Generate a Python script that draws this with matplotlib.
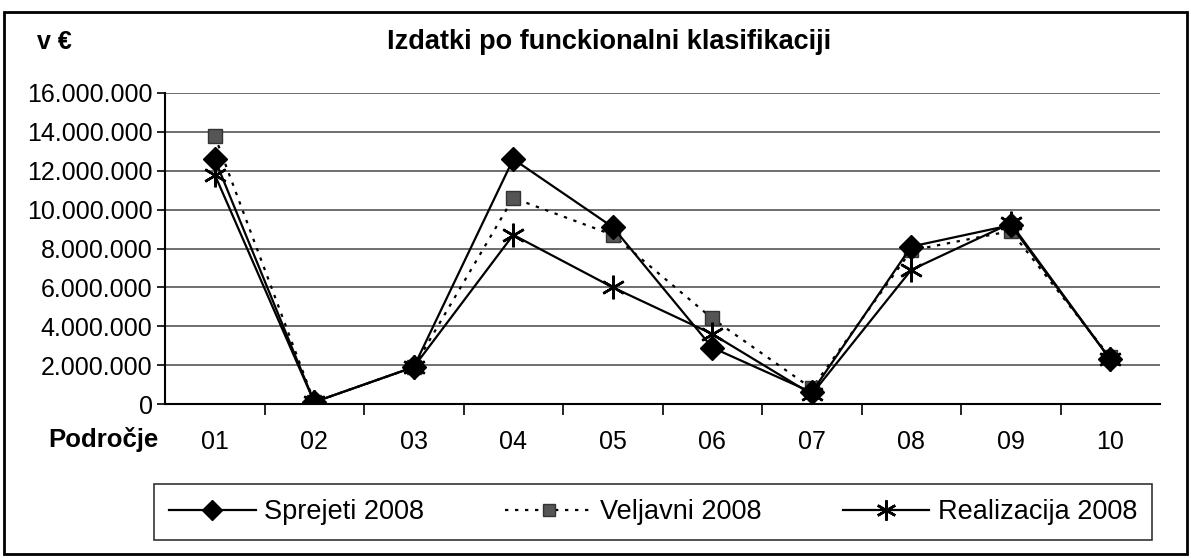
import matplotlib
matplotlib.use("Agg")
import matplotlib.pyplot as plt
from matplotlib.patches import Rectangle
from matplotlib.ticker import FuncFormatter, MultipleLocator

plt.rcParams['font.family'] = ['Liberation Sans', 'DejaVu Sans']

categories = ['01', '02', '03', '04', '05', '06', '07', '08', '09', '10']
sprejeti = [12.6e6, 0.1e6, 1.9e6, 12.6e6, 9.1e6, 2.9e6, 0.6e6, 8.1e6, 9.2e6, 2.3e6]
veljavni = [13.8e6, 0.1e6, 1.9e6, 10.6e6, 8.7e6, 4.4e6, 0.8e6, 7.9e6, 8.9e6, 2.4e6]
realizacija = [11.8e6, 0.1e6, 1.9e6, 8.7e6, 6.0e6, 3.6e6, 0.5e6, 6.9e6, 9.3e6, 2.3e6]

fig = plt.figure(figsize=(11.91, 5.58), dpi=100)
ax = fig.add_axes([165 / 1191, 1 - 404 / 558, (1160 - 165) / 1191, (404 - 93) / 558])

x = range(len(categories))
ax.plot(x, sprejeti, color='black', lw=1.6, marker='D', ms=12, mfc='black', mec='black',
        label='Sprejeti 2008', zorder=4)
ax.plot(x, veljavni, color='black', lw=1.6, ls=(0, (1.5, 3)), marker='s', ms=10, mfc='#555555',
        mec='#333333', label='Veljavni 2008', zorder=3)
ax.plot(x, realizacija, color='black', lw=1.6, marker=(6, 2, 0), ms=17, mew=1.8,
        label='Realizacija 2008', zorder=5)

ax.set_xlim(-0.5, len(categories) - 0.5)
ax.set_ylim(0, 16e6)
ax.yaxis.set_major_locator(MultipleLocator(2e6))
ax.yaxis.set_major_formatter(FuncFormatter(lambda v, p: '{:,.0f}'.format(v).replace(',', '.')))
ax.grid(axis='y', color='#555555', lw=1.2)
ax.set_axisbelow(True)

ax.set_xticks(x)
ax.set_xticklabels(categories, fontsize=18)
ax.tick_params(axis='x', length=0, pad=19)
ax.set_xticks([i + 0.5 for i in range(len(categories) - 1)], minor=True)
ax.tick_params(axis='x', which='minor', length=8, width=1.2, direction='out')
ax.tick_params(axis='y', labelsize=18, length=6, width=1.2, pad=3)

for s in ['top', 'right']:
    ax.spines[s].set_visible(False)
ax.spines['left'].set_linewidth(1.5)
ax.spines['bottom'].set_linewidth(1.5)

fig.text(37 / 1191, 1 - 42 / 558, 'v €', fontsize=18, fontweight='bold', va='center', ha='left')
fig.text(609 / 1191, 1 - 42 / 558, 'Izdatki po funckionalni klasifikaciji', fontsize=19.5,
         fontweight='bold', va='center', ha='center')
fig.text(48 / 1191, 1 - 440 / 558, 'Področje', fontsize=18.5, fontweight='bold', va='center', ha='left')

leg = fig.legend(loc='center', bbox_to_anchor=(653 / 1191, 1 - 512 / 558), ncol=3, fontsize=19.5,
                 frameon=True, fancybox=False, edgecolor='black', handlelength=3.2,
                 handletextpad=0.3, columnspacing=3.0, borderpad=0.55, markerscale=0.85)
leg.get_frame().set_linewidth(1.2)

fig.patches.append(Rectangle((4 / 1191, 4 / 558), 1 - 8 / 1191, 1 - 16 / 558, transform=fig.transFigure,
                             fill=False, edgecolor='black', lw=2))

fig.savefig('out.png', dpi=100, facecolor='white')
